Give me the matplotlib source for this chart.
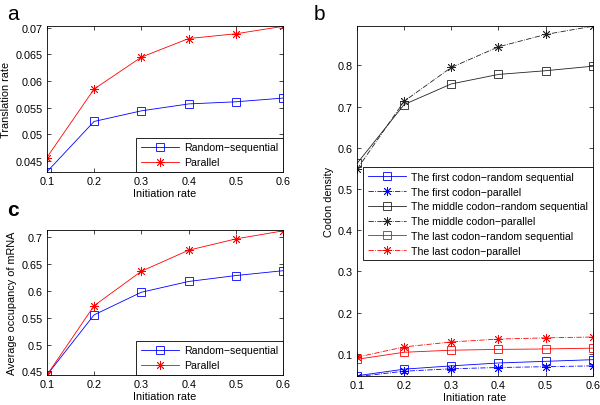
import numpy as np
import matplotlib.pyplot as plt

# initiation rates on the x axis
init_rate = [0.1, 0.2, 0.3, 0.4, 0.5, 0.6]

# panel a - translation rate
trans_rs = [0.0429, 0.0524, 0.0544, 0.0557, 0.0561, 0.0568]
trans_par = [0.0456, 0.0585, 0.0645, 0.0680, 0.0689, 0.0703]

# panel c - average occupancy of mRNA
occ_rs = [0.443, 0.555, 0.597, 0.617, 0.628, 0.637]
occ_par = [0.443, 0.572, 0.636, 0.675, 0.696, 0.711]

# panel b - codon density
first_rs = [0.047, 0.063, 0.071, 0.078, 0.082, 0.086]
first_par = [0.045, 0.058, 0.064, 0.067, 0.069, 0.071]
middle_rs = [0.562, 0.705, 0.755, 0.778, 0.787, 0.798]
middle_par = [0.548, 0.713, 0.795, 0.845, 0.875, 0.895]
last_rs = [0.087, 0.104, 0.109, 0.111, 0.112, 0.114]
last_par = [0.092, 0.117, 0.129, 0.136, 0.139, 0.141]

plt.rcParams['font.family'] = ['Liberation Sans', 'DejaVu Sans']
plt.rcParams['font.size'] = 7.5

fig = plt.figure(figsize=(6, 4.06), dpi=100)

ax_a = fig.add_axes([0.078, 0.574, 0.394, 0.360])
ax_c = fig.add_axes([0.078, 0.074, 0.394, 0.357])
ax_b = fig.add_axes([0.595, 0.071, 0.393, 0.862])

ASTER = (8, 2, 0)  # matlab style asterisk
LW = 0.6
MS = 5.5


def matlab_style(ax):
    ax.tick_params(direction='in', top=True, right=True, length=3, width=0.5,
                   labelsize=7.8, pad=3)
    for s in ax.spines.values():
        s.set_linewidth(0.6)
    ax.set_xlim(0.1, 0.6)
    ax.set_xticks(init_rate)
    ax.set_xticklabels([str(v) for v in init_rate])
    ax.set_xlabel('Initiation rate', fontsize=7.8, labelpad=1)


def matlab_legend(ax, **kw):
    leg = ax.legend(fontsize=7.6, frameon=True, fancybox=False, edgecolor='black',
                    borderaxespad=0, handlelength=3.6, handletextpad=0.5,
                    borderpad=0.45, labelspacing=0.45, numpoints=1,
                    framealpha=1, **kw)
    leg.get_frame().set_linewidth(0.6)
    return leg


# panel a
ax_a.plot(init_rate, trans_rs, '-s', color='blue', lw=LW, ms=MS, mfc='none', mew=LW,
          label='Random\u2212sequential')
ax_a.plot(init_rate, trans_par, '-', marker=ASTER, color='red', lw=LW, ms=MS + 1, mew=LW,
          label='Parallel')
matlab_style(ax_a)
ax_a.set_ylim(0.0429, 0.0704)
ax_a.set_yticks([0.045, 0.05, 0.055, 0.06, 0.065, 0.07])
ax_a.set_yticklabels(['0.045', '0.05', '0.055', '0.06', '0.065', '0.07'])
ax_a.set_ylabel('Translation rate', fontsize=7.8, labelpad=3)
matlab_legend(ax_a, loc='lower right')

# panel c
ax_c.plot(init_rate, occ_rs, '-s', color='blue', lw=LW, ms=MS, mfc='none', mew=LW,
          label='Random\u2212sequential')
ax_c.plot(init_rate, occ_par, '-', marker=ASTER, color='red', lw=LW, ms=MS + 1, mew=LW,
          label='Parallel')
matlab_style(ax_c)
ax_c.set_ylim(0.4435, 0.7125)
ax_c.set_yticks([0.45, 0.5, 0.55, 0.6, 0.65, 0.7])
ax_c.set_yticklabels(['0.45', '0.5', '0.55', '0.6', '0.65', '0.7'])
ax_c.set_ylabel('Average occupancy of mRNA', fontsize=7.8, labelpad=3)
matlab_legend(ax_c, loc='lower right')

# panel b
ax_b.plot(init_rate, first_rs, '-s', color='blue', lw=LW, ms=MS, mfc='none', mew=LW,
          label='The first codon\u2212random sequential')
ax_b.plot(init_rate, first_par, '-.', marker=ASTER, color='blue', lw=LW, ms=MS + 1, mew=LW,
          label='The first codon\u2212parallel')
ax_b.plot(init_rate, middle_rs, '-s', color='#222222', lw=LW, ms=MS, mfc='none', mew=LW,
          label='The middle codon\u2212random sequential')
ax_b.plot(init_rate, middle_par, '-.', marker=ASTER, color='#222222', lw=LW, ms=MS + 1, mew=LW,
          label='The middle codon\u2212parallel')
ax_b.plot(init_rate, last_rs, '-s', color='red', lw=LW, ms=MS, mfc='none', mew=LW,
          label='The last codon\u2212random sequential')
ax_b.plot(init_rate, last_par, '-.', marker=ASTER, color='red', lw=LW, ms=MS + 1, mew=LW,
          label='The last codon\u2212parallel')
matlab_style(ax_b)
ax_b.set_ylim(0.046, 0.895)
ax_b.set_yticks([0.1, 0.2, 0.3, 0.4, 0.5, 0.6, 0.7, 0.8])
ax_b.set_yticklabels(['0.1', '0.2', '0.3', '0.4', '0.5', '0.6', '0.7', '0.8'])
ax_b.set_ylabel('Codon density', fontsize=7.8, labelpad=3)
matlab_legend(ax_b, loc='upper right', bbox_to_anchor=(1.0, 0.597))

# panel letters
fig.text(0.012, 0.965, 'a', fontsize=15, va='center')
fig.text(0.522, 0.965, 'b', fontsize=15, va='center')
fig.text(0.012, 0.482, 'c', fontsize=15, va='center', fontweight='bold')

fig.savefig('out.png', dpi=100)
